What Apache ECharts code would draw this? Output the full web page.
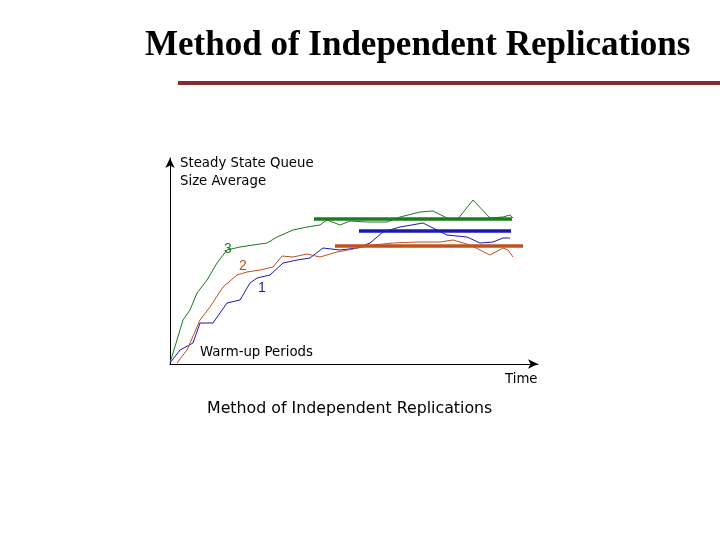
<!DOCTYPE html>
<html><head><meta charset="utf-8">
<script src="https://cdn.jsdelivr.net/npm/echarts@6/dist/echarts.min.js"></script>
<style>html,body{margin:0;padding:0;background:#fff}#c{width:720px;height:540px}</style>
</head><body><div id="c"></div>
<script>
// Replication curves in pixel-like units (x: time, y: queue size average)
const rep3 = [[0,1],[13,44],[20,54],[27,71],[37,84],[47,101],[57,114],[70,117],[83,119],[97,121],[107,127],[123,134],[137,137],[150,139],[157,144],[170,139],[180,143],[197,142],[217,142],[230,147],[250,152],[263,153],[277,146],[287,144],[303,164],[320,146],[333,147],[340,149],[343,146]];
const rep1 = [[0,1],[10,14],[23,21],[30,41],[43,41],[57,61],[70,64],[80,81],[87,86],[100,89],[113,101],[127,104],[140,106],[153,116],[170,114],[187,116],[200,121],[213,132],[230,137],[253,141],[267,134],[277,129],[297,127],[310,121],[323,122],[333,126],[340,126]];
const rep2 = [[7,1],[17,14],[30,44],[40,57],[53,77],[67,89],[77,92],[90,94],[103,97],[112,108],[123,107],[137,110],[150,107],[167,112],[183,115],[203,119],[223,121],[247,122],[270,122],[283,124],[300,119],[320,109],[333,116],[338,114],[343,107]];
const avg3 = [[144,145],[342,145]];
const avg1 = [[189,133],[341,133]];
const avg2 = [[165,118],[353,118]];
const green='#1e7a1e', blue='#1a1ab0', orange='#c0501e';
const chart = echarts.init(document.getElementById('c'));
const ln=(d,c,w)=>({type:'line',data:d,showSymbol:false,smooth:false,lineStyle:{color:c,width:w},silent:true});
chart.setOption({
  animation:false,
  grid:{left:170,top:158,width:368,height:206},
  xAxis:{type:'value',min:0,max:368,axisLine:{lineStyle:{color:'#000',width:1},symbol:['none','arrow'],symbolSize:[7,10]},axisTick:{show:false},axisLabel:{show:false},splitLine:{show:false}},
  yAxis:{type:'value',min:0,max:206,axisLine:{show:true,lineStyle:{color:'#000',width:1},symbol:['none','arrow'],symbolSize:[7,10]},axisTick:{show:false},axisLabel:{show:false},splitLine:{show:false}},
  series:[ln(rep3,green,1),ln(rep1,blue,1),ln(rep2,orange,1),ln(avg3,green,3.5),ln(avg1,blue,3.5),ln(avg2,orange,3.5)],
  graphic:[
    {type:'text',x:145,y:28,style:{text:'Method of Independent Replications',font:'bold 35px "Liberation Serif"',fill:'#000'}},
    {type:'rect',shape:{x:178,y:81,width:542,height:4},style:{fill:'#8b2a2a'}},
    {type:'text',x:180,y:157,style:{text:'Steady State Queue',font:'13.3px "DejaVu Sans"',fill:'#000'}},
    {type:'text',x:180,y:175,style:{text:'Size Average',font:'13.3px "DejaVu Sans"',fill:'#000'}},
    {type:'text',x:200,y:346,style:{text:'Warm-up Periods',font:'13.3px "DejaVu Sans"',fill:'#000'}},
    {type:'text',x:505,y:373,style:{text:'Time',font:'13.3px "DejaVu Sans"',fill:'#000'}},
    {type:'text',x:224,y:242,style:{text:'3',font:'14px "Liberation Sans"',fill:green}},
    {type:'text',x:239,y:259,style:{text:'2',font:'14px "Liberation Sans"',fill:orange}},
    {type:'text',x:258,y:281,style:{text:'1',font:'14px "Liberation Sans"',fill:blue}},
    {type:'text',x:207,y:401,style:{text:'Method of Independent Replications',font:'15.8px "DejaVu Sans"',fill:'#000'}}
  ]
});
</script></body></html>
